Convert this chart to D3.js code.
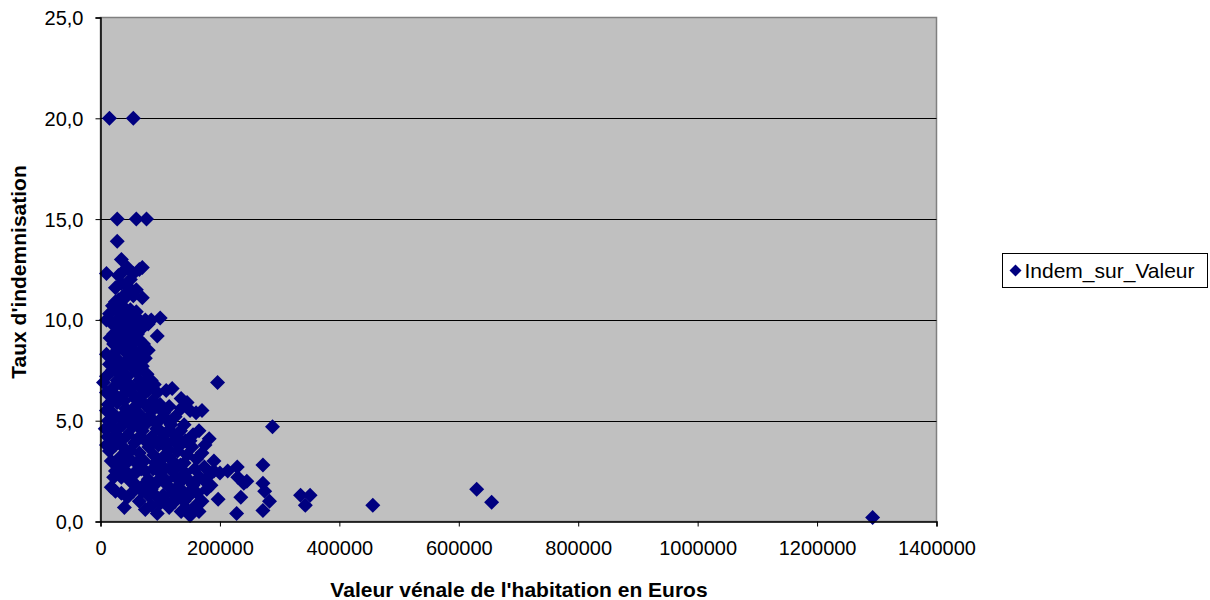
<!DOCTYPE html>
<html lang="fr">
<head>
<meta charset="UTF-8">
<title>Indem_sur_Valeur</title>
<style>
  body { margin: 0; background: #fff; }
  text { font-family: "Liberation Sans", Arial, sans-serif; }
</style>
</head>
<body>
<svg id="svg" width="1210" height="600"></svg>
<script src="https://d3js.org/d3.v7.min.js"></script>
<script>
// valeur vénale (euros), taux d'indemnisation
const points = [
  [15000,20],[55000,20],
  [28000,15],[60000,15],[77000,15],
  [28000,13.9],[35000,13.0],[10000,12.3],[70000,12.6],
  [38000,12.4],[45000,12.6],[55000,12.3],[65000,12.5],[50000,12.0],[30000,12.2],
  [25000,11.6],[35000,11.8],[42000,11.3],[48000,11.6],[55000,11.2],[38000,11.0],[70000,11.1],[60000,11.5],[30000,11.0],
  [20000,10.7],[25000,10.9],[30000,10.5],[35000,10.3],[40000,10.6],[45000,10.2],[50000,10.5],[55000,10.1],[60000,10.4],
  [65000,10.0],[75000,10.0],[85000,10.0],[100000,10.1],[15000,10.3],[10000,10.0],[28000,10.0],[45000,9.9],
  [16000,9.1],[22000,9.3],[30000,9.7],[35000,9.2],[40000,9.5],[48000,9.4],[55000,9.7],[62000,9.3],[70000,9.6],
  [80000,9.8],[95000,9.2],[25000,9.0],[45000,9.0],[58000,8.9],[35000,9.8],[50000,9.0],[65000,9.0],[20000,9.8],
  [22000,8.8],[28000,8.5],[35000,8.7],[42000,8.4],[50000,8.6],[60000,8.3],[68000,8.5],[75000,8.1],[10000,8.3],
  [30000,8.0],[45000,8.0],[55000,8.1],[20000,8.2],[72000,8.8],[80000,8.5],
  [20000,7.5],[25000,7.8],[32000,7.3],[38000,7.6],[45000,7.2],[52000,7.7],[60000,7.4],[70000,7.7],[78000,7.3],
  [85000,7.0],[10000,7.2],[28000,7.0],[65000,7.0],[15000,7.8],[60000,7.9],[40000,7.0],[75000,6.9],[90000,6.8],
  [5000,6.9],[10000,6.4],[20000,6.6],[27000,6.2],[35000,6.8],[42000,6.4],[50000,6.6],[58000,6.1],[65000,6.7],
  [72000,6.3],[80000,6.5],[88000,6.0],[95000,6.4],[110000,6.5],[120000,6.6],[135000,6.1],[145000,5.9],[196000,6.9],
  [48000,6.8],[55000,6.3],[40000,6.0],[62000,6.0],[20000,6.0],
  [13000,5.8],[20000,5.4],[28000,5.9],[35000,5.2],[42000,5.6],[50000,5.1],[58000,5.7],[66000,5.3],[74000,5.8],
  [82000,5.2],[90000,5.6],[98000,5.0],[106000,5.4],[115000,5.7],[125000,5.2],[150000,5.5],[160000,5.4],[170000,5.5],[135000,5.6],
  [45000,5.4],[55000,5.5],[84000,5.5],[100000,5.8],[110000,5.1],[68000,5.0],[20000,5.0],[10000,5.5],
  [13000,5.0],[12000,4.2],[22000,4.6],[30000,4.2],[38000,4.8],[46000,4.3],[54000,4.7],[62000,4.1],[70000,4.5],
  [78000,4.9],[86000,4.2],[94000,4.6],[102000,4.0],[110000,4.4],[118000,4.8],[126000,4.1],[134000,4.5],[142000,4.0],
  [182000,4.1],[288000,4.7],[155000,4.3],[65000,4.9],[30000,4.6],[92000,4.9],[100000,4.5],[120000,4.4],[140000,4.8],
  [165000,4.5],[150000,4.0],[20000,4.0],[25000,4.2],[35000,4.0],[75000,4.0],[85000,4.0],[8000,4.6],
  [15000,3.5],[25000,3.8],[33000,3.2],[41000,3.6],[49000,3.1],[57000,3.9],[65000,3.4],[73000,3.0],[81000,3.7],
  [89000,3.3],[97000,3.8],[105000,3.2],[113000,3.6],[121000,3.0],[129000,3.5],[137000,3.9],[145000,3.3],[153000,3.7],
  [161000,3.1],[170000,3.4],[30000,2.7],[45000,3.4],[50000,3.5],[18000,3.0],[60000,2.9],[100000,3.0],[130000,3.8],
  [112000,3.9],[115000,3.2],[175000,3.8],[190000,3.0],[10000,3.8],
  [25000,2.5],[40000,2.8],[55000,2.3],[68000,2.6],[80000,2.1],[92000,2.9],[100000,2.4],[110000,2.0],[118000,2.7],
  [126000,2.2],[134000,2.8],[142000,2.4],[150000,2.0],[158000,2.6],[166000,2.2],[174000,2.7],[182000,2.3],[190000,2.5],
  [200000,2.4],[213000,2.5],[229000,2.7],[230000,2.2],[245000,2.0],[272000,2.8],[272000,1.9],[120000,2.5],[95000,2.0],[140000,2.9],
  [22000,2.2],[35000,2.2],[50000,2.0],[42000,2.5],[60000,2.5],[75000,2.5],[88000,2.6],[105000,2.7],[105000,2.2],
  [125000,2.6],[135000,2.0],[160000,2.0],[175000,2.0],
  [25000,1.5],[35000,1.4],[45000,1.2],[55000,1.5],[65000,1.0],[72000,1.8],[85000,1.6],[95000,1.2],[105000,1.3],
  [112000,1.8],[120000,1.4],[128000,1.7],[125000,1.0],[138000,1.5],[146000,1.2],[155000,1.8],[162000,1.4],[170000,1.0],
  [178000,1.6],[197000,1.1],[240000,1.9],[235000,1.2],[275000,1.5],[283000,1.0],[335000,1.3],[351000,1.3],[343000,0.8],
  [630000,1.6],[655000,0.95],[60000,1.8],[90000,1.8],[80000,1.3],[70000,1.5],[130000,1.3],[140000,1.0],[150000,1.5],
  [185000,1.8],[100000,0.9],[110000,1.0],[18000,1.7],
  [40000,0.7],[75000,0.6],[85000,0.8],[95000,0.4],[115000,0.7],[135000,0.5],[145000,0.6],[150000,0.3],[160000,0.8],
  [165000,0.5],[228000,0.4],[272000,0.55],[456000,0.8],[1293000,0.2]
]

const xTicks = [0, 200000, 400000, 600000, 800000, 1000000, 1200000, 1400000]
const yTicks = [0, 5, 10, 15, 20, 25]
const seriesName = 'Indem_sur_Valeur'

const plot = { left: 100.5, right: 936.5, top: 17.5, bottom: 521.5 }

const xScale = d3.scaleLinear().domain([0, 1400000]).range([plot.left, plot.right])
const yScale = d3.scaleLinear().domain([0, 25]).range([plot.bottom, plot.top])

const svg = d3.select('#svg')
const navy = '#000080'
const diamond = 'M0,-7.5L7.5,0L0,7.5L-7.5,0Z'

// plot area
svg.append('rect')
  .attr('x', plot.left).attr('y', plot.top)
  .attr('width', plot.right - plot.left).attr('height', plot.bottom - plot.top)
  .attr('fill', '#c0c0c0')
  .attr('stroke', '#808080')
  .attr('stroke-width', 1.5)

// gridlines
svg.append('g')
  .selectAll('line')
  .data(yTicks.filter(d => d > 0 && d < 25))
  .enter()
  .append('line')
  .attr('x1', plot.left).attr('x2', plot.right)
  .attr('y1', d => Math.round(yScale(d)) + 0.5).attr('y2', d => Math.round(yScale(d)) + 0.5)
  .attr('stroke', '#000')

// points
svg.append('g')
  .selectAll('path')
  .data(points)
  .enter()
  .append('path')
  .attr('d', diamond)
  .attr('transform', d => `translate(${xScale(d[0])},${yScale(d[1])})`)
  .attr('fill', navy)

// axes
const yAxis = d3.axisLeft(yScale)
  .tickValues(yTicks)
  .tickSize(5)
  .tickPadding(12)
  .tickFormat(d => d3.format('.1f')(d).replace('.', ','))

const xAxis = d3.axisBottom(xScale)
  .tickValues(xTicks)
  .tickSize(5)
  .tickPadding(14)
  .tickFormat(d => String(d))

const gy = svg.append('g')
  .attr('transform', `translate(${plot.left},0)`)
  .call(yAxis)
const gx = svg.append('g')
  .attr('transform', `translate(0,${plot.bottom})`)
  .call(xAxis)

gx.select('.domain').attr('stroke', '#000').attr('stroke-width', 1.5)
gy.select('.domain').attr('stroke', '#000').attr('stroke-width', 1.5)
svg.selectAll('.tick text')
  .style('font-family', '"Liberation Sans", Arial, sans-serif')
  .style('font-size', '20px')
  .attr('fill', '#000')
gy.selectAll('.tick text').attr('dy', '0.35em')

// axis titles
svg.append('text')
  .attr('x', 519).attr('y', 597)
  .attr('text-anchor', 'middle')
  .style('font-size', '21px')
  .style('font-weight', 'bold')
  .text("Valeur vénale de l'habitation en Euros")

svg.append('text')
  .attr('transform', 'translate(26,272) rotate(-90)')
  .attr('text-anchor', 'middle')
  .style('font-size', '21px')
  .style('font-weight', 'bold')
  .text("Taux d'indemnisation")

// legend
const legend = svg.append('g').attr('transform', 'translate(1002.5,253.5)')
legend.append('rect')
  .attr('width', 205).attr('height', 34)
  .attr('fill', '#fff').attr('stroke', '#000')
legend.append('path')
  .attr('d', 'M0,-6L6,0L0,6L-6,0Z')
  .attr('transform', 'translate(13,17)')
  .attr('fill', navy)
legend.append('text')
  .attr('x', 22).attr('y', 24)
  .style('font-size', '21px')
  .text(seriesName)
</script>
</body>
</html>
